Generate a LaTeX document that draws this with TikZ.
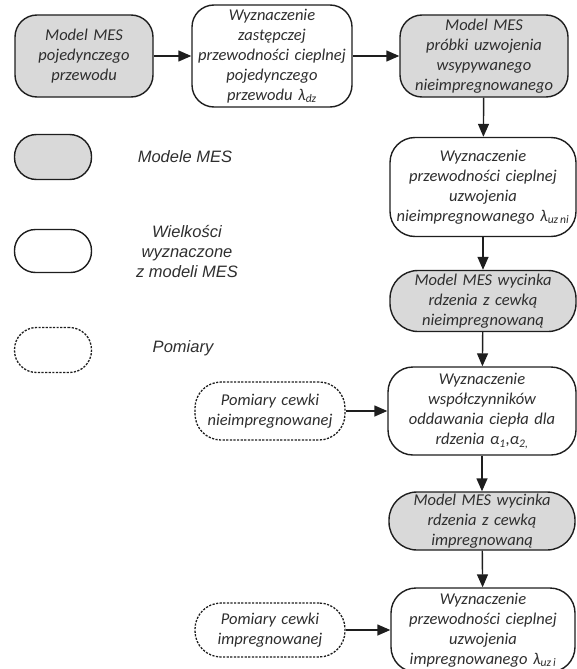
\documentclass[tikz,border=0pt]{standalone}
\usepackage{fontspec}
\setmainfont{Carlito}
\newfontfamily\legendfont{Liberation Sans}
\usetikzlibrary{arrows.meta}
\definecolor{boxgray}{HTML}{D9D9D9}
\definecolor{txt}{HTML}{2E2E2E}
\definecolor{edge}{HTML}{1E1E1E}
\begin{document}
\begin{tikzpicture}[x=1pt,y=-1pt,
  base/.style={draw=edge, line width=1.4pt, align=center, inner xsep=0pt, inner ysep=0pt,
    font=\fontsize{16.5}{20}\selectfont\itshape, text=txt},
  model/.style={base, fill=boxgray},
  result/.style={base, fill=white},
  meas/.style={base, fill=white, dash pattern=on 2.2pt off 1.4pt, line width=1.3pt},
  legtext/.style={align=center, inner sep=0pt, font=\legendfont\fontsize{16.5}{20}\selectfont\itshape, text=txt},
  arr/.style={draw=edge, line width=1.4pt, -{Triangle[length=13pt,width=11pt]}},
]
\useasboundingbox (0,0) rectangle (577,669);

% main flow
\node[model, rounded corners=22pt, text width=138pt, minimum height=82pt] (A) at (84,56)
  {Model MES\\pojedynczego\\przewodu};
\node[result, rounded corners=22pt, text width=160pt, minimum height=102pt] (B) at (272,56)
  {Wyznaczenie\\zastępczej\\przewodności cieplnej\\pojedynczego\\przewodu λ\textsubscript{dz}};
\node[model, rounded corners=22pt, text width=168pt, minimum height=82pt] (C) at (484,56)
  {Model MES\\próbki uzwojenia\\wsypywanego\\nieimpregnowanego};
\node[result, rounded corners=25pt, text width=186pt, minimum height=99pt] (D) at (483,187)
  {Wyznaczenie\\przewodności cieplnej\\uzwojenia\\nieimpregnowanego λ\textsubscript{uz\,ni}};
\node[model, rounded corners=28pt, text width=186pt, minimum height=61pt] (E) at (483,301)
  {Model MES wycinka\\rdzenia z cewką\\nieimpregnowaną};
\node[result, rounded corners=25pt, text width=188pt, minimum height=88pt] (F) at (482,411)
  {Wyznaczenie\\współczynników\\oddawania ciepła dla\\rdzenia α\textsubscript{1},α\textsubscript{2,}};
\node[model, rounded corners=28pt, text width=186pt, minimum height=58pt] (G) at (482,521)
  {Model MES wycinka\\rdzenia z cewką\\impregnowaną};
\node[result, rounded corners=25pt, text width=184pt, minimum height=84pt] (H) at (483,630)
  {Wyznaczenie\\przewodności cieplnej\\uzwojenia\\impregnowanego λ\textsubscript{uz\,i}};

% measurements
\node[meas, rounded corners=26pt, text width=150pt, minimum height=58pt] (M1) at (270,411)
  {Pomiary cewki\\nieimpregnowanej};
\node[meas, rounded corners=26pt, text width=150pt, minimum height=54pt] (M2) at (270,630)
  {Pomiary cewki\\impregnowanej};

% connectors
\draw[arr] (A) -- (B);
\draw[arr] (B) -- (C);
\draw[arr] (C) -- (D);
\draw[arr] (D) -- (E);
\draw[arr] (E) -- (F);
\draw[arr] (F) -- (G);
\draw[arr] (G) -- (H);
\draw[arr] (M1) -- (F);
\draw[arr] (M2) -- (H);

% legend
\node[model, rounded corners=22pt, text width=77pt, minimum height=45pt] (L1) at (53,157) {};
\node[result, rounded corners=21pt, text width=77pt, minimum height=43pt] (L2) at (53,251) {};
\node[meas, rounded corners=22pt, text width=77pt, minimum height=45pt] (L3) at (53,350) {};
\node[legtext] (T1) at (185,157) {Modele MES};
\node[legtext] (T2) at (187,252) {Wielkości\\wyznaczone\\z modeli MES};
\node[legtext] (T3) at (183,348) {Pomiary};
\end{tikzpicture}
\end{document}
